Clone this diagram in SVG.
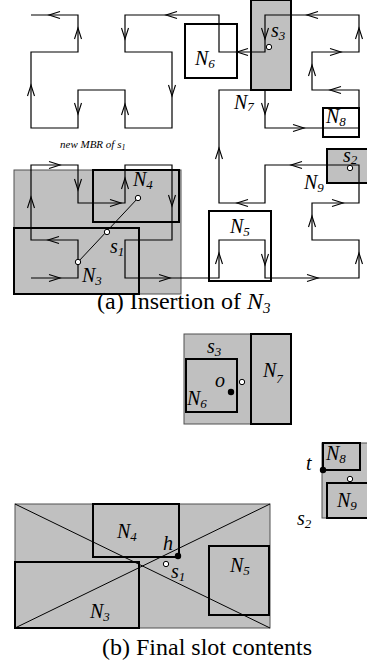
<svg xmlns="http://www.w3.org/2000/svg" xmlns:xlink="http://www.w3.org/1999/xlink" width="367" height="666" viewBox="0 0 367 666">
<style>
.bg{fill:#fff}
.g{fill:#c0c0c0}
.w{fill:#fff}
.thick{stroke:#000;stroke-width:2}
.thin{stroke:#505050;stroke-width:1}
.cv{fill:none;stroke:#000;stroke-width:1.2;stroke-linejoin:miter}
.ah{fill:none;stroke:#000;stroke-width:1.1}
.lb{font-family:"Liberation Serif","Times New Roman",serif;font-style:italic;font-size:20px;fill:#000}
.sb{font-size:13px}
.sm{font-family:"Liberation Serif","Times New Roman",serif;font-style:italic;font-size:11px;fill:#000}
.cap{font-family:"Liberation Serif","Times New Roman",serif;font-size:24px;fill:#000}
.oc{fill:#fff;stroke:#000;stroke-width:1}
.bc{fill:#000}
.ln{stroke:#000;stroke-width:1;fill:none}
</style>
<defs>
<path id="a" d="M-11,-3.5 L0,0 L-11,3.5" class="ah"/>
</defs>
<rect width="367" height="666" class="bg"/>

<!-- Part (a) -->
<g id="s1mbr"><rect x="14" y="170" width="167" height="124" class="g thin"/></g>
<g id="N4a"><rect x="93" y="170" width="86" height="52" fill="none" class="thick"/></g>
<g id="N3a"><rect x="14" y="228" width="125" height="66" fill="none" class="thick"/></g>
<g id="s3a"><rect x="251" y="0" width="40" height="90" class="g thick"/></g>
<g id="N6a"><rect x="185" y="24" width="52" height="54" class="w thick"/></g>
<g id="N8a"><rect x="323" y="108" width="36" height="29" class="w thick"/></g>
<g id="s2a"><rect x="327" y="149" width="41" height="34" class="g thick"/></g>
<g id="N5a"><rect x="209" y="211" width="62" height="70" class="w thick"/></g>

<g id="connectors">
<polyline class="cv" points="31,278 78,278 78,240 31,240 31,165 78,165 78,203 125,203 125,165 172,165 172,240 125,240 125,278 219,278 219,240 265,240 265,278 359,278 359,240 312,240 312,203 359,203 359,165 265,165 265,203 219,203 219,90 265,90 265,128 359,128 359,90 312,90 312,52 359,52 359,15 265,15 265,52 219,52 219,15 125,15 125,52 172,52 172,128 125,128 125,90 78,90 78,128 31,128 31,52 78,52 78,15 31,15"/>
<use xlink:href="#a" transform="translate(49,15) rotate(180)"/>
<use xlink:href="#a" transform="translate(78,28) rotate(-90)"/>
<use xlink:href="#a" transform="translate(31,85) rotate(-90)"/>
<use xlink:href="#a" transform="translate(78,114) rotate(90)"/>
<use xlink:href="#a" transform="translate(125,104) rotate(-90)"/>
<use xlink:href="#a" transform="translate(172,96) rotate(90)"/>
<use xlink:href="#a" transform="translate(125,39) rotate(90)"/>
<use xlink:href="#a" transform="translate(166,15) rotate(180)"/>
<use xlink:href="#a" transform="translate(237,52) rotate(180)"/>
<use xlink:href="#a" transform="translate(265,39) rotate(90)"/>
<use xlink:href="#a" transform="translate(307,15) rotate(180)"/>
<use xlink:href="#a" transform="translate(359,28) rotate(-90)"/>
<use xlink:href="#a" transform="translate(341,52)"/>
<use xlink:href="#a" transform="translate(312,65) rotate(-90)"/>
<use xlink:href="#a" transform="translate(330,90) rotate(180)"/>
<use xlink:href="#a" transform="translate(304,128)"/>
<use xlink:href="#a" transform="translate(265,114) rotate(90)"/>
<use xlink:href="#a" transform="translate(219,148) rotate(-90)"/>
<use xlink:href="#a" transform="translate(237,203) rotate(180)"/>
<use xlink:href="#a" transform="translate(291,165) rotate(180)"/>
<use xlink:href="#a" transform="translate(343,203)"/>
<use xlink:href="#a" transform="translate(312,216) rotate(-90)"/>
<use xlink:href="#a" transform="translate(359,253) rotate(-90)"/>
<use xlink:href="#a" transform="translate(318,278)"/>
<use xlink:href="#a" transform="translate(265,265) rotate(90)"/>
<use xlink:href="#a" transform="translate(219,253) rotate(-90)"/>
<use xlink:href="#a" transform="translate(170,278)"/>
<use xlink:href="#a" transform="translate(60,278)"/>
<use xlink:href="#a" transform="translate(48,240) rotate(180)"/>
<use xlink:href="#a" transform="translate(31,197) rotate(-90)"/>
<use xlink:href="#a" transform="translate(60,165)"/>
<use xlink:href="#a" transform="translate(78,190) rotate(90)"/>
<use xlink:href="#a" transform="translate(121,203)"/>
<use xlink:href="#a" transform="translate(125,178) rotate(-90)"/>
<use xlink:href="#a" transform="translate(172,206) rotate(90)"/>
</g>

<g id="s1a-pts">
<line x1="138" y1="198" x2="78" y2="262" class="ln"/>
<circle cx="138" cy="198" r="2.7" class="oc"/>
<circle cx="107" cy="232" r="2.7" class="oc"/>
<circle cx="78" cy="262" r="2.7" class="oc"/>
<circle cx="269" cy="47" r="2.7" class="oc"/>
<circle cx="350" cy="168" r="2.7" class="oc"/>
</g>

<g id="labels-a">
<text x="271" y="37" class="lb">s<tspan class="sb" dy="3">3</tspan></text>
<text x="195" y="65" class="lb">N<tspan class="sb" dy="3">6</tspan></text>
<text x="234" y="109" class="lb">N<tspan class="sb" dy="2">7</tspan></text>
<text x="326" y="123" class="lb">N<tspan class="sb" dy="3">8</tspan></text>
<text x="343" y="162" class="lb">s<tspan class="sb" dy="2">2</tspan></text>
<text x="304" y="189" class="lb">N<tspan class="sb" dy="3">9</tspan></text>
<text x="133" y="186" class="lb">N<tspan class="sb" dy="3">4</tspan></text>
<text x="110" y="253" class="lb">s<tspan class="sb" dy="3">1</tspan></text>
<text x="82" y="282" class="lb">N<tspan class="sb" dy="3">3</tspan></text>
<text x="230" y="233" class="lb">N<tspan class="sb" dy="3">5</tspan></text>
<text x="60" y="148" class="sm">new MBR of s<tspan font-size="8" dy="2">1</tspan></text>
<text x="97" y="309" class="cap">(a) Insertion of <tspan font-style="italic">N</tspan><tspan font-style="italic" font-size="15" dy="4">3</tspan></text>
</g>

<!-- Part (b) -->
<g id="s3b">
<rect x="184" y="334" width="107" height="90" class="g thin"/>
<rect x="251" y="334" width="40" height="90" class="g thick"/>
<rect x="186" y="359" width="51" height="53" class="g thick"/>
<circle cx="242" cy="382" r="2.7" class="oc"/>
<circle cx="231" cy="392" r="3.2" class="bc"/>
<text x="207" y="353" class="lb">s<tspan class="sb" dy="3">3</tspan></text>
<text x="263" y="377" class="lb">N<tspan class="sb" dy="6">7</tspan></text>
<text x="215" y="387" class="lb">o</text>
<text x="187" y="405" class="lb">N<tspan class="sb" dy="3">6</tspan></text>
</g>

<g id="s2b">
<rect x="322" y="443" width="46" height="75" class="g thin"/>
<rect x="323" y="443" width="37" height="27" class="g thick"/>
<rect x="327" y="483" width="41" height="35" class="g thick"/>
<circle cx="350" cy="479" r="2.7" class="oc"/>
<circle cx="323" cy="470" r="3.2" class="bc"/>
<text x="306" y="470" class="lb">t</text>
<text x="326" y="460" class="lb">N<tspan class="sb" dy="3">8</tspan></text>
<text x="337" y="507" class="lb">N<tspan class="sb" dy="3">9</tspan></text>
<text x="297" y="525" class="lb">s<tspan class="sb" dy="3">2</tspan></text>
</g>

<g id="s1b">
<rect x="15" y="504" width="255" height="124" class="g thin"/>
<rect x="93" y="504" width="86" height="53" class="g thick"/>
<rect x="15" y="562" width="124" height="66" class="g thick"/>
<rect x="209" y="546" width="60" height="69" class="g thick"/>
<line x1="15" y1="504" x2="270" y2="628" class="ln"/>
<line x1="15" y1="628" x2="270" y2="504" class="ln"/>
<circle cx="166" cy="564" r="2.7" class="oc"/>
<circle cx="178" cy="556" r="3.2" class="bc"/>
<text x="117" y="538" class="lb">N<tspan class="sb" dy="3">4</tspan></text>
<text x="163" y="550" class="lb">h</text>
<text x="171" y="578" class="lb">s<tspan class="sb" dy="3">1</tspan></text>
<text x="230" y="572" class="lb">N<tspan class="sb" dy="3">5</tspan></text>
<text x="90" y="618" class="lb">N<tspan class="sb" dy="3">3</tspan></text>
</g>

<text x="102" y="655" class="cap">(b) Final slot contents</text>
</svg>
